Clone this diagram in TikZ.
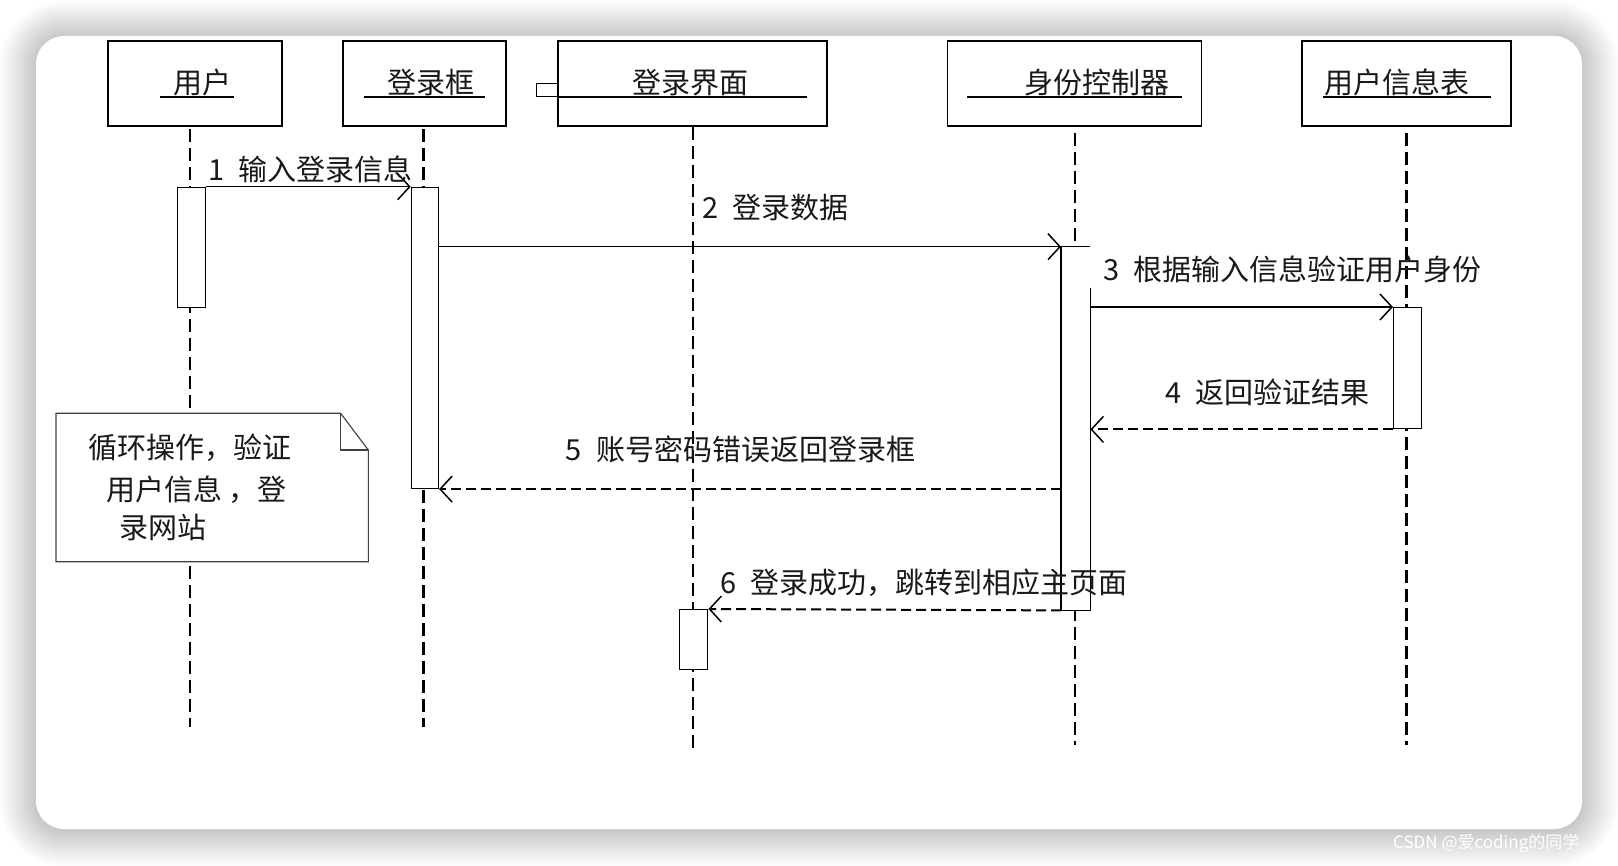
\documentclass[tikz,border=0pt]{standalone}
\usepackage{fontspec}
\setmainfont{Noto Sans CJK SC}
\usetikzlibrary{arrows.meta}
\begin{document}
\begin{tikzpicture}[x=1pt,y=-1pt,
  hdr/.style={draw, line width=1.4pt, inner sep=0pt, minimum height=85pt},
  htext/.style={anchor=base west, inner sep=0pt, font=\fontsize{29pt}{32pt}\selectfont, text=black!90},
  lbl/.style={anchor=base west, inner sep=0pt, font=\fontsize{29pt}{32pt}\selectfont, text=black!90},
  uline/.style={line width=1.4pt},
  lifeline/.style={line width=2.3pt, dash pattern=on 13pt off 6pt},
  actbox/.style={draw, fill=white, line width=1.4pt, inner sep=0pt, anchor=north west, minimum width=28pt},
  msg/.style={line width=1.5pt, -{Straight Barb[length=12pt,width=26pt]}},
  ret/.style={line width=2pt, dash pattern=on 10pt off 5pt, -{Straight Barb[length=12pt,width=26pt,line width=1.5pt]}},
  boxline/.style={line width=1.4pt},
  noteline/.style={line width=1.1pt, draw=black!75}
]
\useasboundingbox (0,0) rectangle (1618,866);
% background and card shadow
\fill[white] (0,0) rectangle (1618,866);
\foreach \i [evaluate=\i as \r using 28+2*\i] in {1,...,18} {
  \fill[black, opacity=0.012, rounded corners=\r pt] ({36-2*\i},{37-2*\i}) rectangle ({1582+2*\i},{830+2*\i});
}
\fill[white, rounded corners=28pt] (36,36) rectangle (1582,829);
\node[anchor=west, inner sep=0pt, text=white, font=\fontsize{17pt}{20pt}\selectfont] (wm) at (1393,843) {CSDN @爱coding的同学};

% lifelines
\coordinate (t1) at (190,129);   \coordinate (b1) at (190,727);
\coordinate (t2) at (423.6,129); \coordinate (b2) at (423.6,727);
\coordinate (t3) at (693,127);   \coordinate (b3) at (693,753);
\coordinate (t4) at (1075,133);  \coordinate (b4) at (1075,745);
\coordinate (t5) at (1406.5,133);\coordinate (b5) at (1406.5,745);
\foreach \k in {1,...,5} { \draw[lifeline] (t\k) -- (b\k); }

% header boxes
\node[hdr, minimum width=174pt] (h1) at (195,83.5) {};
\node[hdr, minimum width=163pt] (h2) at (424.5,83.5) {};
\node[hdr, minimum width=269pt] (h3) at (692.3,83.5) {};
\node[hdr, minimum width=254pt] (h4) at (1074.7,83.5) {};
\node[hdr, minimum width=209pt] (h5) at (1406.5,83.5) {};
\draw[line width=0.9pt] (536.7,83.3) rectangle (557.7,96.5);
\draw[uline] (160,97) -- (234,97);
\draw[uline] (363.5,97) -- (485.4,97);
\draw[uline] (557.7,97) -- (807,97);
\draw[uline] (967,97) -- (1182,97);
\draw[uline] (1322.7,97) -- (1491,97);
\node[htext] (n1) at (173,94) {用户};
\node[htext] (n2) at (387,94) {登录框};
\node[htext] (n3) at (632,94) {登录界面};
\node[htext] (n4) at (1024,94) {身份控制器};
\node[htext] (n5) at (1324,94) {用户信息表};

% note
\draw[noteline, fill=white] (56,413.3) -- (340.7,413.3) -- (368.3,450) -- (368.3,561.7) -- (56,561.7) -- cycle;
\draw[noteline] (340.7,413.3) -- (340.7,450) -- (368.3,450);
\node[lbl] (note1) at (88,458.5) {循环操作，验证};
\node[lbl] (note2) at (106,500.5) {用户信息 ，登};
\node[lbl] (note3) at (119,538.5) {录网站};

% activation boxes
\node[actbox, minimum height=120pt] (a1) at (176.7,186.7) {};
\node[actbox, minimum width=27pt, minimum height=301pt] (a2) at (410.7,186.7) {};
\node[actbox, minimum height=60pt] (a3) at (679,609) {};
\node[actbox, draw=none, minimum height=362.3pt] (a4) at (1061,246.7) {};
\node[actbox, minimum height=121pt] (a5) at (1393,307) {};
\draw[boxline] ([yshift=-41pt]a4.north east) -- (a4.south east) -- (a4.south west) -- (a4.north west);

% messages
\draw[msg] (a1.north east) -- (a2.north west);
\draw[msg] (a2.east |- a4.north) -- (a4.north west);
\draw[boxline] (a4.north west) -- (a4.north east);
\draw[msg] (a4.east |- a5.north) -- (a5.north west);
\draw[ret] (a5.south west) -- (a4.east |- a5.south);
\draw[ret] (a4.west |- a2.south) -- (a2.south east);
\draw[ret] (a4.south west) -- (a3.north east);

% labels
\node[lbl] (m1) at (208,180.5) {1\enspace 输入登录信息};
\node[lbl] (m2) at (702,218.5) {2\enspace 登录数据};
\node[lbl] (m3) at (1103,280.5) {3\enspace 根据输入信息验证用户身份};
\node[lbl] (m4) at (1165,403.5) {4\enspace 返回验证结果};
\node[lbl] (m5) at (565.5,460.5) {5\enspace 账号密码错误返回登录框};
\node[lbl] (m6) at (720,593.5) {6\enspace 登录成功，跳转到相应主页面};
\end{tikzpicture}
\end{document}
